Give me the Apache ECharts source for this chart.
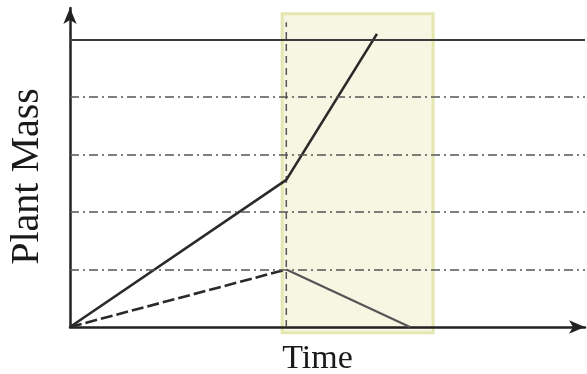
<!DOCTYPE html>
<html>
<head>
<meta charset="utf-8">
<script src="https://cdn.jsdelivr.net/npm/echarts@6/dist/echarts.min.js"></script>
<style>html,body{margin:0;padding:0;background:#fff;}#c{width:587px;height:374px;}</style>
</head>
<body>
<div id="c"></div>
<script>
// Data (time in arbitrary units 0-100, plant mass in arbitrary units)
var xLabel = 'Time';
var yLabel = 'Plant Mass';
var gridLevels = [1, 2, 3, 4, 5];
var solidLine = [[0, 0], [42, 2.56], [59.6, 5.1]];
var dashedLine = [[0, 0], [42, 1]];
var declineLine = [[42, 1], [66, 0]];
var markerTime = [[42, 0], [42, 5.3]];
var highlight = [[41.2, -0.1, 70.5, 5.45]];

var chart = echarts.init(document.getElementById('c'));
var gridMarks = gridLevels.map(function (v, i) {
  var top = i === gridLevels.length - 1;
  return {
    yAxis: v,
    lineStyle: top ? {type: 'solid', color: '#3a3a3a', width: 2}
                   : {type: [9, 4, 2, 4], color: '#555', width: 1.6}
  };
});
chart.setOption({
  animation: false,
  backgroundColor: '#fff',
  grid: {left: 70, right: 2, top: 8, bottom: 47, containLabel: false, outerBoundsMode: 'none'},
  xAxis: {
    type: 'value', min: 0, max: 100,
    name: xLabel, nameLocation: 'middle', nameGap: 15,
    nameTextStyle: {fontFamily: 'Liberation Serif', fontSize: 34, color: '#1a1a1a', padding: [0, 20, 0, 0]},
    axisLine: {show: true, symbol: ['none', 'arrow'], symbolSize: [10, 16], lineStyle: {color: '#222', width: 2.5}},
    axisTick: {show: false}, axisLabel: {show: false}, splitLine: {show: false}
  },
  yAxis: {
    type: 'value', min: 0, max: 5.55,
    name: yLabel, nameLocation: 'middle', nameGap: 23, nameRotate: 90,
    nameTextStyle: {fontFamily: 'Liberation Serif', fontSize: 40, color: '#1a1a1a', padding: [0, 18, 0, 0]},
    axisLine: {show: true, symbol: ['none', 'arrow'], symbolSize: [10, 16], lineStyle: {color: '#222', width: 2.5}},
    axisTick: {show: false}, axisLabel: {show: false}, splitLine: {show: false}
  },
  series: [
    {
      type: 'custom', z: 0, clip: false, silent: true,
      data: highlight,
      renderItem: function (params, api) {
        var p0 = api.coord([api.value(0), api.value(3)]);
        var p1 = api.coord([api.value(2), api.value(1)]);
        return {type: 'rect', shape: {x: p0[0], y: p0[1], width: p1[0] - p0[0], height: p1[1] - p0[1]},
          style: {fill: '#f6f6e3', stroke: '#e4e8b0', lineWidth: 3}};
      }
    },
    {
      type: 'line', data: [], z: 1, silent: true,
      markLine: {symbol: ['none', 'none'], label: {show: false}, silent: true, data: gridMarks, animation: false}
    },
    {type: 'line', data: markerTime, z: 2, symbol: 'none', clip: false,
     lineStyle: {color: '#555', width: 1.5, type: [7, 5]}},
    {type: 'line', data: solidLine, z: 3, symbol: 'none', clip: false,
     lineStyle: {color: '#2a2a2a', width: 2.6}},
    {type: 'line', data: dashedLine, z: 3, symbol: 'none', clip: false,
     lineStyle: {color: '#2a2a2a', width: 2.6, type: [12, 4]}},
    {type: 'line', data: declineLine, z: 3, symbol: 'none', clip: false,
     lineStyle: {color: '#555', width: 2.2}}
  ]
});
</script>
</body>
</html>
